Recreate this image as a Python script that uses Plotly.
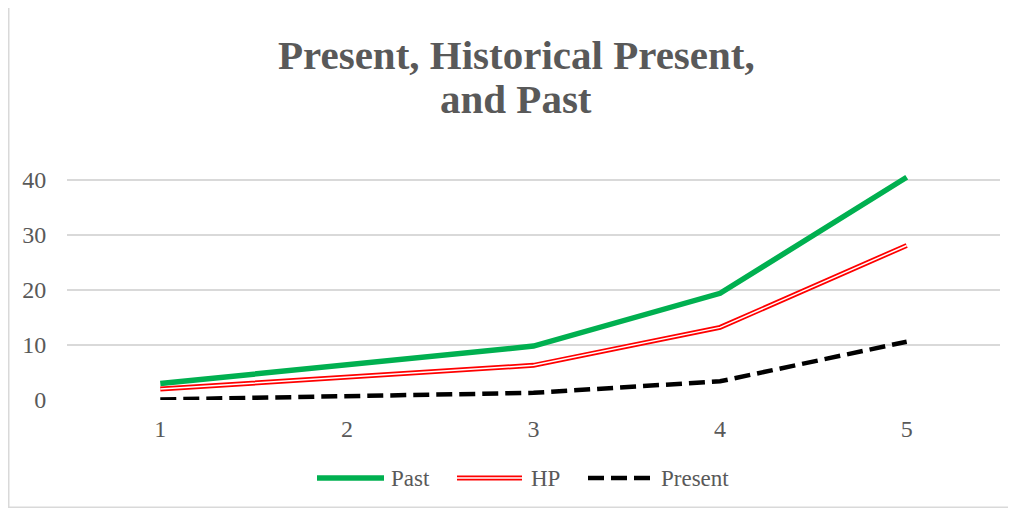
import plotly.graph_objects as go

categories = ["1", "2", "3", "4", "5"]
past = [3.0, 6.4, 9.8, 19.4, 40.5]
hp = [2.0, 4.2, 6.3, 13.2, 28.1]
present = [0.1, 0.7, 1.3, 3.4, 10.6]
y_ticks = [0, 10, 20, 30, 40]
title_lines = ["Present, Historical Present,", "and Past"]
legend_names = ["Past", "HP", "Present"]

GREEN = "#00B050"
RED = "#FF0000"
GREY = "#595959"
FONT = "Liberation Serif, Times New Roman, serif"

fig = go.Figure()
fig.add_trace(go.Scatter(x=categories, y=past, mode="lines", name=legend_names[0],
                         line=dict(color=GREEN, width=5.5), showlegend=False))
fig.add_trace(go.Scatter(x=categories, y=hp, mode="lines", name=legend_names[1],
                         line=dict(color=RED, width=5), showlegend=False))
fig.add_trace(go.Scatter(x=categories, y=hp, mode="lines", name="HP inner",
                         line=dict(color="white", width=1.5), showlegend=False,
                         hoverinfo="skip"))
fig.add_trace(go.Scatter(x=categories, y=present, mode="lines", name=legend_names[2],
                         line=dict(color="black", width=4.5, dash="16px,7px"),
                         showlegend=False))

# page body has an 8px margin; positions below are in screen pixels
OFF = 8
W, H = 1000, 500
L, R, T, B = 59, 8, 161, 108
pw = W - L - R
ph = H - T - B


def px(x):
    return (x - OFF - L) / pw


def py(y):
    return (H - B - (y - OFF)) / ph


shapes = []
# chart border (left and bottom visible)
shapes.append(dict(type="rect", xref="paper", yref="paper",
                   x0=px(OFF + 0.75), x1=px(1100), y0=py(OFF + H - 0.75), y1=py(-100),
                   line=dict(color="#D9D9D9", width=1.5), layer="below"))
# legend swatches
ly = py(478)
shapes.append(dict(type="line", xref="paper", yref="paper", x0=px(317), x1=px(384),
                   y0=ly, y1=ly, line=dict(color=GREEN, width=5.5)))
shapes.append(dict(type="line", xref="paper", yref="paper", x0=px(457), x1=px(522),
                   y0=ly, y1=ly, line=dict(color=RED, width=5)))
shapes.append(dict(type="line", xref="paper", yref="paper", x0=px(457), x1=px(522),
                   y0=ly, y1=ly, line=dict(color="white", width=1.5)))
shapes.append(dict(type="line", xref="paper", yref="paper", x0=px(588), x1=px(651),
                   y0=ly, y1=ly, line=dict(color="black", width=4.5, dash="16px,7px")))

annotations = []
for label, xpos in zip(legend_names, [389, 529, 659]):
    annotations.append(dict(text=label, xref="paper", yref="paper", x=px(xpos), y=ly,
                            xanchor="left", yanchor="middle", showarrow=False,
                            font=dict(family=FONT, size=23, color=GREY)))
for line, ypos in zip(title_lines, [55, 99]):
    annotations.append(dict(text="<b>" + line + "</b>", xref="paper", yref="paper",
                            x=px(516), y=py(ypos), xanchor="center", yanchor="middle",
                            showarrow=False,
                            font=dict(family=FONT, size=41, color=GREY)))

fig.update_layout(
    width=W, height=H,
    margin=dict(l=L, r=R, t=T, b=B),
    paper_bgcolor="white", plot_bgcolor="white",
    shapes=shapes,
    annotations=annotations,
    showlegend=False,
)
fig.update_xaxes(type="category", range=[-0.5, 4.5], showgrid=False,
                 showline=False, zeroline=False,
                 ticks="outside", ticklen=7, tickcolor="rgba(0,0,0,0)",
                 tickfont=dict(family=FONT, size=24, color=GREY))
fig.update_yaxes(range=[0, 42], tickvals=y_ticks, showgrid=True,
                 gridcolor="#D9D9D9", gridwidth=1.5, zeroline=False, showline=False,
                 ticks="outside", ticklen=15, tickcolor="rgba(0,0,0,0)",
                 tickfont=dict(family=FONT, size=24, color=GREY))

fig.write_html("out.html")
